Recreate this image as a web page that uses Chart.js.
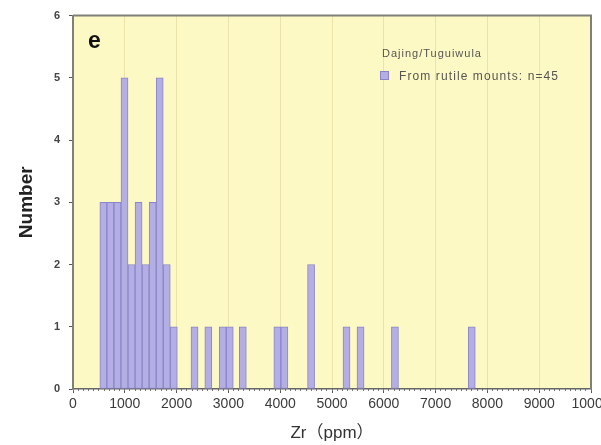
<!DOCTYPE html>
<html>
<head>
<meta charset="utf-8">
<script src="https://cdn.jsdelivr.net/npm/chart.js@4"></script>
<style>
  html, body { margin: 0; padding: 0; background: #fff; }
  #wrap { width: 601px; height: 445px; }
</style>
</head>
<body>
<div id="wrap"><canvas id="zrChart" width="601" height="445"></canvas></div>
<script>
// histogram bins (centre of bin, ppm) and counts
const binCenters = [586, 722, 858, 994, 1130, 1266, 1402, 1538, 1674, 1810, 1946,
                    2346, 2613, 2890, 3026, 3278, 3945, 4081, 4596, 5280, 5551, 6215, 7698];
const counts = [3, 3, 3, 5, 2, 3, 2, 3, 5, 2, 1,
                1, 1, 1, 1, 1, 1, 1, 2, 1, 1, 1, 1];
const xTickLabels = [0, 1000, 2000, 3000, 4000, 5000, 6000, 7000, 8000, 9000, 10000];
const yTickLabels = [0, 1, 2, 3, 4, 5, 6];
const seriesLabel = 'From rutile mounts: n=45';
const legendTitle = 'Dajing/Tuguiwula';
const panelLabel = 'e';

const FONT = "'Liberation Sans', Arial, 'Noto Sans CJK SC', sans-serif";
const barFill = '#b3aee4';
const barEdge = '#8a85c8';

// yellow plot area + frame + panel letter + legend
const decor = {
  id: 'decor',
  beforeDraw(chart) {
    const { ctx, chartArea: a } = chart;
    ctx.save();
    ctx.fillStyle = '#fdf9c4';
    ctx.fillRect(a.left, a.top, a.right - a.left, a.bottom - a.top);
    ctx.restore();
  },
  afterDraw(chart) {
    const { ctx, chartArea: a } = chart;
    ctx.save();
    ctx.strokeStyle = '#808078';
    ctx.lineWidth = 2;
    ctx.beginPath();
    ctx.moveTo(a.left, a.top);
    ctx.lineTo(a.right, a.top);
    ctx.lineTo(a.right, a.bottom);
    ctx.stroke();

    ctx.fillStyle = '#111';
    ctx.font = 'bold 23px ' + FONT;
    ctx.textBaseline = 'alphabetic';
    ctx.fillText(panelLabel, 88, 48);

    // legend
    ctx.fillStyle = '#555';
    ctx.font = '11px ' + FONT;
    ctx.letterSpacing = '1px';
    ctx.fillText(legendTitle, 382, 57);
    ctx.fillStyle = barFill;
    ctx.fillRect(380, 71, 8, 8);
    ctx.strokeStyle = barEdge;
    ctx.lineWidth = 1;
    ctx.strokeRect(380.5, 71.5, 8, 8);
    ctx.fillStyle = '#555';
    ctx.font = '12px ' + FONT;
    ctx.letterSpacing = '1.1px';
    ctx.fillText(chart.data.datasets[0].label, 399, 80);
    ctx.restore();
  }
};

new Chart(document.getElementById('zrChart'), {
  type: 'bar',
  data: {
    datasets: [{
      label: seriesLabel,
      data: binCenters.map((x, i) => ({ x: x, y: counts[i] })),
      backgroundColor: barFill,
      borderColor: barEdge,
      borderWidth: 1,
      borderSkipped: false,
      barPercentage: 1,
      categoryPercentage: 1
    }]
  },
  options: {
    responsive: false,
    animation: false,
    layout: { padding: { top: 14, right: 10, left: 0, bottom: 0 } },
    plugins: {
      legend: { display: false },
      tooltip: { enabled: false }
    },
    scales: {
      x: {
        type: 'linear',
        min: 0,
        max: 10000,
        offset: false,
        weight: 0,
        afterFit: s => { s.height = 56; s.paddingLeft = 0; s.paddingRight = 0; },
        border: { color: '#666', width: 1.5 },
        grid: {
          offset: false,
          tickLength: 4,
          color: c => {
            const v = c.tick ? c.tick.value : 0;
            if (v === 0 || v === 10000) return 'rgba(0,0,0,0)';
            return 'rgba(210,200,145,0.45)';
          },
          tickColor: '#555'
        },
        ticks: {
          stepSize: 1000,
          autoSkip: false,
          maxRotation: 0,
          minRotation: 0,
          padding: 3,
          color: '#3a3a3a',
          font: { family: FONT, size: 14 },
          callback: v => xTickLabels.includes(v) ? String(v) : ''
        },
        title: {
          display: true,
          text: 'Zr（ppm）',
          color: '#333',
          font: { family: FONT, size: 17 },
          padding: { top: 0, bottom: 1 }
        }
      },
      // minor tick marks along the bottom axis
      xMinor: {
        type: 'linear',
        position: 'bottom',
        min: 0,
        max: 10000,
        offset: false,
        weight: -1,
        afterFit: s => { s.height = 0; s.paddingLeft = 0; s.paddingRight = 0; },
        border: { display: false },
        grid: {
          offset: false,
          drawOnChartArea: false,
          tickLength: 2,
          tickColor: '#777',
          color: c => (c.tick && c.tick.value % 500 === 0 && c.tick.value % 1000 !== 0) ? 'rgba(215,205,150,0.3)' : 'rgba(0,0,0,0)'
        },
        ticks: { display: false, stepSize: 100, autoSkip: false, maxRotation: 0 }
      },
      y: {
        min: 0,
        max: 6,
        afterFit: s => { s.width = 73; },
        border: { color: '#808078', width: 2 },
        grid: { drawOnChartArea: false, tickLength: 4, tickColor: '#555' },
        ticks: {
          stepSize: 1,
          padding: 9,
          color: '#444',
          font: { family: FONT, size: 11, weight: 'bold' },
          callback: v => yTickLabels.includes(v) ? String(v) : ''
        },
        title: {
          display: true,
          text: 'Number',
          color: '#222',
          font: { family: FONT, size: 19, weight: 'bold' },
          padding: { top: 15, bottom: 0 }
        }
      }
    }
  },
  plugins: [decor]
});
</script>
</body>
</html>
